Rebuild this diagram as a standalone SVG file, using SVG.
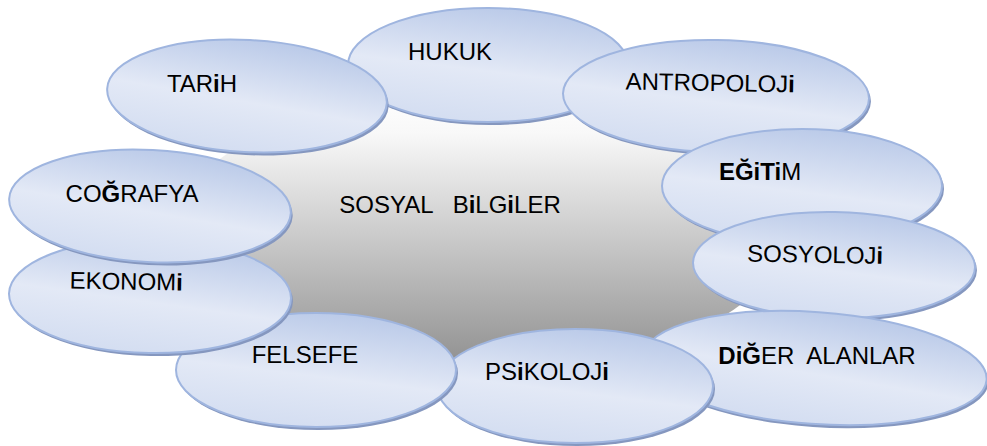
<svg xmlns="http://www.w3.org/2000/svg" width="987" height="446" viewBox="0 0 987 446">
<defs>
<linearGradient id="gray" x1="0" y1="0" x2="0" y2="1">
<stop offset="0" stop-color="#ffffff"/>
<stop offset="0.15" stop-color="#f8f8f8"/>
<stop offset="1" stop-color="#8e8e8e"/>
</linearGradient>
<linearGradient id="blue" x1="0.65" y1="0" x2="0.35" y2="1">
<stop offset="0" stop-color="#b9c9e8"/>
<stop offset="0.55" stop-color="#e3e9f6"/>
<stop offset="1" stop-color="#d3ddf1"/>
</linearGradient>
<ellipse id="oval" cx="0" cy="0" rx="1" ry="1"/>
</defs>
<style>
.sh{fill:#8597bf;}
.ov{fill:url(#blue);stroke:#9fb5df;stroke-width:2;}
text{font-family:"Liberation Sans","Noto Sans",sans-serif;font-size:24px;fill:#000;text-anchor:middle;white-space:pre;}
.b{font-weight:bold;}
</style>
<rect width="987" height="446" fill="#ffffff"/>
<g id="center">
<ellipse cx="480" cy="232" rx="305" ry="140" fill="url(#gray)"/>
<text x="450" y="213" xml:space="preserve">SOSYAL   B<tspan class="b">i</tspan>LG<tspan class="b">i</tspan>LER</text>
</g>
<g id="connectors"></g>
<g id="hukuk">
<ellipse class="sh" cx="490" cy="68" rx="140" ry="57"/>
<ellipse class="ov" cx="488" cy="65" rx="140" ry="57"/>
<text x="450" y="60">HUKUK</text>
</g>
<g id="antropoloji" transform="rotate(1 716 96)">
<ellipse class="sh" cx="718" cy="99" rx="153" ry="56"/>
<ellipse class="ov" cx="716" cy="96" rx="153" ry="56"/>
<text x="710" y="91">ANTROPOLOJ<tspan class="b">i</tspan></text>
</g>
<g id="egitim">
<ellipse class="sh" cx="804" cy="189" rx="140" ry="57"/>
<ellipse class="ov" cx="802" cy="186" rx="140" ry="57"/>
<text x="760" y="180"><tspan class="b">EĞiTi</tspan>M</text>
</g>
<g id="sosyoloji" transform="rotate(1 834 265)">
<ellipse class="sh" cx="836" cy="268" rx="141" ry="53"/>
<ellipse class="ov" cx="834" cy="265" rx="141" ry="53"/>
<text x="815" y="263">SOSYOLOJ<tspan class="b">i</tspan></text>
</g>
<g id="diger">
<g transform="rotate(4 815 368)">
<ellipse class="sh" cx="817" cy="371" rx="172" ry="56"/>
<ellipse class="ov" cx="815" cy="368" rx="172" ry="56"/>
</g>
<text x="817" y="364" xml:space="preserve"><tspan class="b">DiĞ</tspan>ER  ALANLAR</text>
</g>
<g id="psikoloji">
<ellipse class="sh" cx="577" cy="389" rx="138" ry="57"/>
<ellipse class="ov" cx="575" cy="386" rx="138" ry="57"/>
<text x="547" y="380">PS<tspan class="b">i</tspan>KOLOJ<tspan class="b">i</tspan></text>
</g>
<g id="felsefe">
<ellipse class="sh" cx="318" cy="373" rx="140" ry="57"/>
<ellipse class="ov" cx="316" cy="370" rx="140" ry="57"/>
<text x="305" y="363">FELSEFE</text>
</g>
<g id="ekonomi" transform="rotate(1 150 296)">
<ellipse class="sh" cx="152" cy="299" rx="141" ry="57"/>
<ellipse class="ov" cx="150" cy="296" rx="141" ry="57"/>
<text x="126" y="290">EKONOM<tspan class="b">i</tspan></text>
</g>
<g id="cografya">
<g transform="rotate(3 150 206)">
<ellipse class="sh" cx="152" cy="209" rx="141" ry="56"/>
<ellipse class="ov" cx="150" cy="206" rx="141" ry="56"/>
</g>
<text x="132" y="202">CO<tspan class="b">Ğ</tspan>RAFYA</text>
</g>
<g id="tarih">
<g transform="rotate(3 247 96)">
<ellipse class="sh" cx="249" cy="99" rx="140" ry="56"/>
<ellipse class="ov" cx="247" cy="96" rx="140" ry="56"/>
</g>
<text x="202" y="92">TAR<tspan class="b">i</tspan>H</text>
</g>
</svg>
